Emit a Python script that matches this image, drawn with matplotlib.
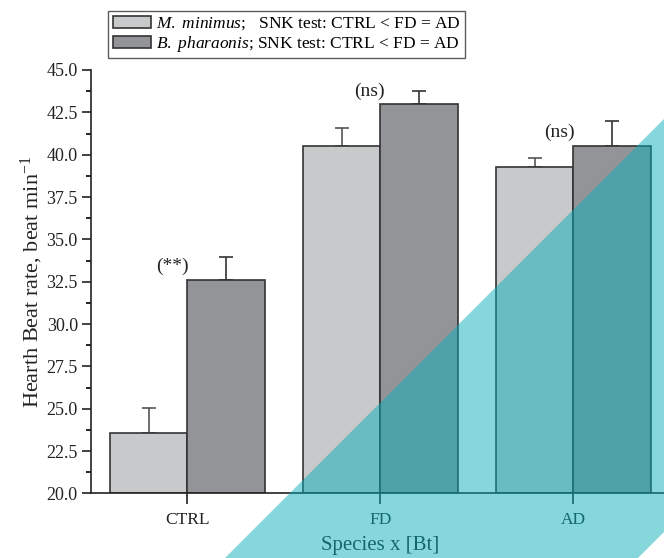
import numpy as np
import matplotlib
matplotlib.use("Agg")
import matplotlib.pyplot as plt
from matplotlib.patches import Polygon
from matplotlib.ticker import MultipleLocator

plt.rcParams['font.family'] = ['Liberation Serif', 'DejaVu Serif']
plt.rcParams['mathtext.fontset'] = 'custom'
plt.rcParams['mathtext.rm'] = 'Liberation Serif'
plt.rcParams['mathtext.it'] = 'Liberation Serif:italic'

# data
groups = ["CTRL", "FD", "AD"]
minimus = [23.6, 40.5, 39.25]
minimus_err = [1.45, 1.1, 0.55]
pharaonis = [32.6, 43.0, 40.5]
pharaonis_err = [1.38, 0.74, 1.5]
signif = ["(**)", "(ns)", "(ns)"]
legend_labels = [r"$\mathit{M.\ minimus}$;   SNK test: CTRL < FD = AD",
                 r"$\mathit{B.\ pharaonis}$; SNK test: CTRL < FD = AD"]

fig = plt.figure(figsize=(6.64, 5.58), dpi=100)
ax = fig.add_axes([0.137, 0.1156, 0.872, 0.759])

x = np.arange(len(groups))
w = 0.4
b1 = ax.bar(x - w/2, np.array(minimus) - 20, w, bottom=20, color='#c8c9cb',
            edgecolor='#333333', linewidth=1.2, label=legend_labels[0], zorder=2)
b2 = ax.bar(x + w/2, np.array(pharaonis) - 20, w, bottom=20, color='#939498',
            edgecolor='#333333', linewidth=1.2, label=legend_labels[1], zorder=2)
ax.errorbar(x - w/2, minimus, yerr=[np.zeros(3), minimus_err], fmt='none',
            ecolor='#555555', elinewidth=1.2, capsize=5, capthick=1.2, zorder=1)
ax.errorbar(x + w/2, pharaonis, yerr=[np.zeros(3), pharaonis_err], fmt='none',
            ecolor='#333333', elinewidth=1.2, capsize=5, capthick=1.2, zorder=1)

# significance marks
offs = [(-0.08, 33.4), (0.943, 43.75), (1.927, 41.3)]
for s, (xx, yy) in zip(signif, offs):
    ax.text(xx, yy, s, ha='center', va='center', fontsize=14, color='#222222')

ax.set_xlim(-0.5, 2.5)
ax.set_ylim(20, 45)
ax.set_xticks(x)
ax.set_xticklabels(groups, fontsize=12.5)
ax.yaxis.set_major_locator(MultipleLocator(2.5))
ax.yaxis.set_minor_locator(MultipleLocator(1.25))
ax.yaxis.set_major_formatter(matplotlib.ticker.FormatStrFormatter('%.1f'))
ax.tick_params(axis='y', labelsize=13, direction='out', length=6.5, width=1.2, colors='#222222', pad=3)
ax.tick_params(axis='y', which='minor', length=3.5, width=1.2)
ax.tick_params(axis='x', direction='out', length=8, width=1.2, colors='#222222', pad=5)
for sp in ['top', 'right']:
    ax.spines[sp].set_visible(False)
for sp in ['left', 'bottom']:
    ax.spines[sp].set_linewidth(1.2)
    ax.spines[sp].set_color('#222222')

ax.set_ylabel(r"Hearth Beat rate, beat min$^{-1}$", fontsize=16, color='#222222', labelpad=1)
ax.set_xlabel("Species x [Bt]", fontsize=15, color='#222222', labelpad=6)

leg = fig.legend(handles=[b1, b2], loc='upper left', bbox_to_anchor=(0.163, 0.98),
                 fontsize=12.5, frameon=True, fancybox=False, edgecolor='#333333',
                 handlelength=2.2, handleheight=0.7, handletextpad=0.3,
                 borderpad=0.25, labelspacing=0.1, borderaxespad=0)
leg.get_frame().set_linewidth(1.0)

# teal watermark band
W, H = 664.0, 558.0
pts = [(225 / W, 0), (1.0, 1 - 119 / H), (1.0, 1 - 532 / H), (638 / W, 0)]
fig.patches.append(Polygon(pts, closed=True, transform=fig.transFigure,
                           facecolor='#06afb8', alpha=0.49, edgecolor='none', zorder=10))

fig.savefig("out.png", dpi=100)
